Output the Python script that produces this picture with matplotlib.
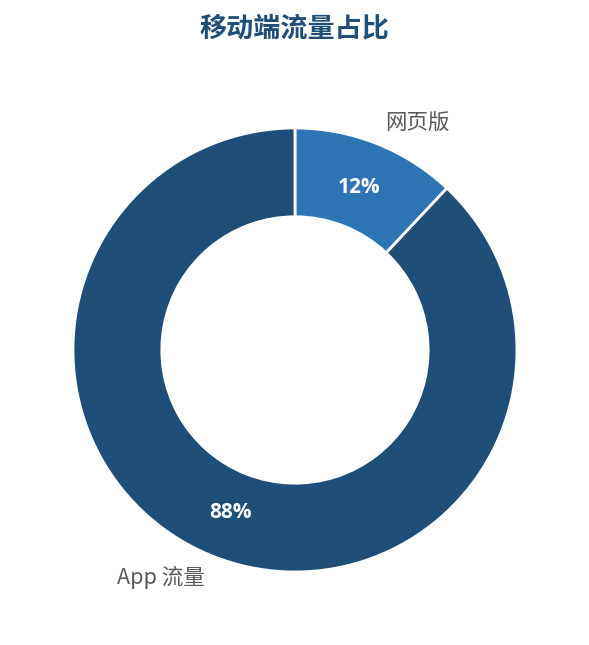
import matplotlib
matplotlib.use('Agg')
import matplotlib.pyplot as plt

plt.rcParams['font.family'] = ['Noto Sans CJK SC', 'DejaVu Sans']

labels = ['网页版', 'App 流量']
shares = [12, 88]
colors = ['#2e75b6', '#1f4e79']
title = '移动端流量占比'

fig = plt.figure(figsize=(5.89, 6.45), dpi=100)
ax = fig.add_axes([0.1239, 0.1132, 0.7538, 0.6884])

wedges, texts, autotexts = ax.pie(
    shares, labels=labels, colors=colors, startangle=90, counterclock=False,
    autopct='%d%%', pctdistance=0.785, labeldistance=1.1,
    wedgeprops=dict(width=0.4, edgecolor='white', linewidth=2),
    textprops=dict(fontsize=15.5, color='#595959'))

for t in autotexts:
    t.set_color('white')
    t.set_fontsize(15)
    t.set_fontweight('bold')
    t.set_family(['Open Sans', 'DejaVu Sans'])

ax.set_xlim(-1, 1)
ax.set_ylim(-1, 1)
ax.set_aspect('equal')

fig.text(0.5, 1 - 28 / 645, title, ha='center', va='center',
         fontsize=19.5, fontweight='bold', color='#1f4e79')

fig.savefig('out.png', dpi=100)
